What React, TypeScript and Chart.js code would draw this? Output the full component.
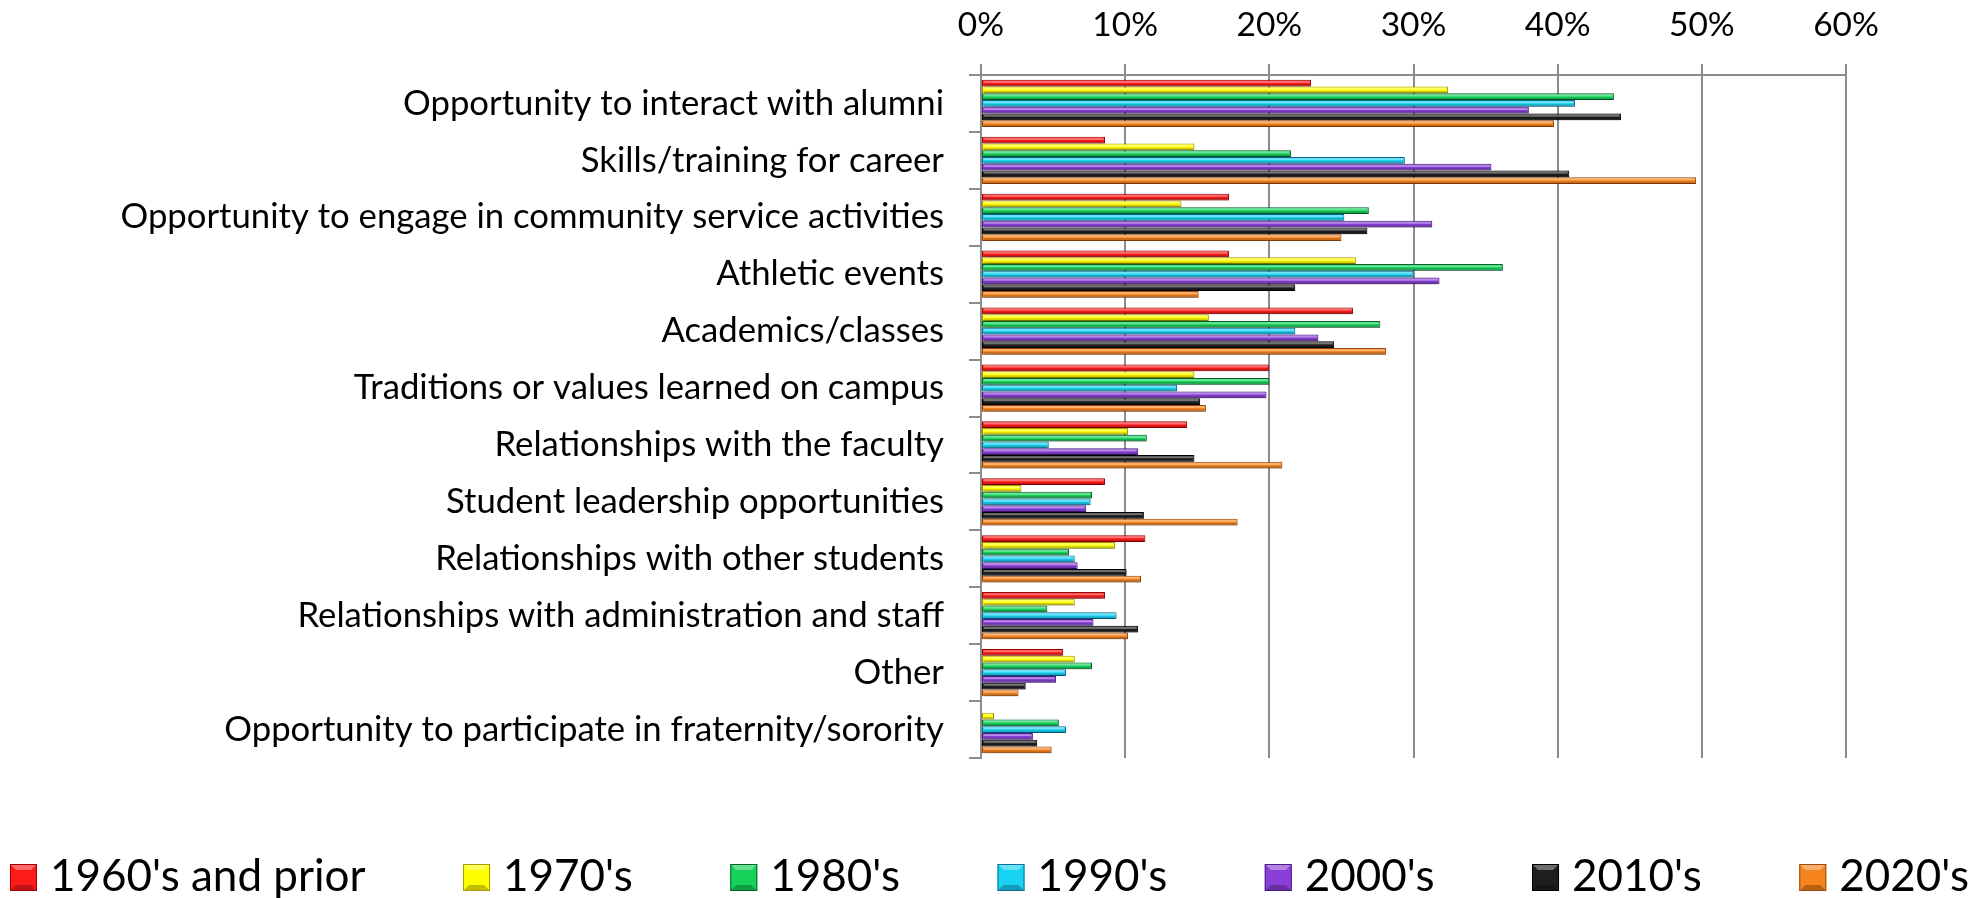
import React, { useEffect, useRef } from 'react';
import { Chart, registerables } from 'chart.js';

Chart.register(...registerables);

const categories = [
  'Opportunity to interact with alumni',
  'Skills/training for career',
  'Opportunity to engage in community service activities',
  'Athletic events',
  'Academics/classes',
  'Traditions or values learned on campus',
  'Relationships with the faculty',
  'Student leadership opportunities',
  'Relationships with other students',
  'Relationships with administration and staff',
  'Other',
  'Opportunity to participate in fraternity/sorority',
];

const seriesNames = ["1960's and prior", "1970's", "1980's", "1990's", "2000's", "2010's", "2020's"];

const s1960 = [22.9, 8.6, 17.2, 17.2, 25.8, 20.0, 14.3, 8.6, 11.4, 8.6, 5.7, 0];
const s1970 = [32.4, 14.8, 13.9, 26.0, 15.8, 14.8, 10.2, 2.8, 9.3, 6.5, 6.5, 0.9];
const s1980 = [43.9, 21.5, 26.9, 36.2, 27.7, 20.0, 11.5, 7.7, 6.1, 4.6, 7.7, 5.4];
const s1990 = [41.2, 29.4, 25.2, 30.0, 21.8, 13.6, 4.7, 7.6, 6.5, 9.4, 5.9, 5.9];
const s2000 = [38.0, 35.4, 31.3, 31.8, 23.4, 19.8, 10.9, 7.3, 6.7, 7.8, 5.2, 3.6];
const s2010 = [44.4, 40.8, 26.8, 21.8, 24.5, 15.2, 14.8, 11.3, 10.1, 10.9, 3.1, 3.9];
const s2020 = [39.75, 49.6, 25.0, 15.1, 28.1, 15.6, 20.9, 17.8, 11.1, 10.2, 2.6, 4.9];

const seriesValues = [s1960, s1970, s1980, s1990, s2000, s2010, s2020];

const fillColors = ['#ff1a1a', '#ffff00', '#14d25a', '#18d2f2', '#8a3fd6', '#1e1e1e', '#f5841e'];
const edgeColors = ['#a00000', '#a89a00', '#06642a', '#0a6e9a', '#4a1a88', '#000000', '#a0480a'];

const xTicks = [0, 10, 20, 30, 40, 50, 60];

const FONT = 'Lato, "Open Sans", sans-serif';
const GRID = '#8c8c8c';

const barDecor = {
  id: 'barDecor',
  beforeDatasetsDraw(chart: any) {
    const ctx = chart.ctx;
    ctx.save();
    ctx.shadowColor = 'rgba(0,0,0,0.28)';
    ctx.shadowBlur = 5;
    ctx.shadowOffsetX = 2;
    ctx.shadowOffsetY = 3;
  },
  afterDatasetsDraw(chart: any) {
    const ctx = chart.ctx;
    ctx.restore();
    ctx.save();
    chart.data.datasets.forEach((ds: any, i: number) => {
      const meta = chart.getDatasetMeta(i);
      if (meta.hidden) return;
      meta.data.forEach((el: any) => {
        const p = el.getProps(['x', 'y', 'base', 'height'], true);
        const left = Math.min(p.base, p.x);
        const right = Math.max(p.base, p.x);
        const w = right - left;
        if (w < 3) return;
        const top = p.y - p.height / 2;
        ctx.fillStyle = 'rgba(255,255,255,0.38)';
        ctx.fillRect(left + 1.5, top + 1.2, w - 3, Math.max(1, p.height * 0.28));
        ctx.fillStyle = 'rgba(0,0,0,0.18)';
        ctx.fillRect(left + 1.5, top + p.height * 0.62, w - 3, p.height * 0.3);
      });
    });
    ctx.restore();
  },
};

function drawLegendBox(ctx: CanvasRenderingContext2D, x: number, y: number, s: number, fill: string, edge: string) {
  ctx.fillStyle = fill;
  ctx.fillRect(x, y, s, s);
  // bevel: lighter top, darker bottom
  ctx.beginPath();
  ctx.moveTo(x, y);
  ctx.lineTo(x + s, y);
  ctx.lineTo(x + s * 0.78, y + s * 0.22);
  ctx.lineTo(x + s * 0.22, y + s * 0.22);
  ctx.closePath();
  ctx.fillStyle = 'rgba(255,255,255,0.35)';
  ctx.fill();
  ctx.beginPath();
  ctx.moveTo(x, y + s);
  ctx.lineTo(x + s, y + s);
  ctx.lineTo(x + s * 0.78, y + s * 0.78);
  ctx.lineTo(x + s * 0.22, y + s * 0.78);
  ctx.closePath();
  ctx.fillStyle = 'rgba(0,0,0,0.25)';
  ctx.fill();
  ctx.strokeStyle = edge;
  ctx.lineWidth = 1;
  ctx.strokeRect(x + 0.5, y + 0.5, s - 1, s - 1);
}

const customLegend = {
  id: 'customLegend',
  afterDraw(chart: any) {
    const ctx: CanvasRenderingContext2D = chart.ctx;
    ctx.save();
    ctx.font = `44px ${FONT}`;
    const boxS = 27;
    const textGap = 13;
    const widths = seriesNames.map((n) => boxS + textGap + ctx.measureText(n).width);
    const startX = 10;
    const endX = 1969;
    const total = widths.reduce((a, b) => a + b, 0);
    const gap = (endX - startX - total) / (widths.length - 1);
    const cy = 877;
    let x = startX;
    seriesNames.forEach((n, i) => {
      drawLegendBox(ctx, x, cy - 13, boxS, fillColors[i], edgeColors[i]);
      ctx.fillStyle = '#000';
      ctx.textBaseline = 'middle';
      ctx.textAlign = 'left';
      ctx.fillText(n, x + boxS + textGap, cy);
      x += widths[i] + gap;
    });
    ctx.restore();
  },
};

export default function App() {
  const ref = useRef<HTMLCanvasElement | null>(null);

  useEffect(() => {
    if (!ref.current) return;
    const chart = new Chart(ref.current, {
      type: 'bar',
      data: {
        labels: categories,
        datasets: seriesNames.map((name, i) => ({
          label: name,
          data: seriesValues[i],
          backgroundColor: fillColors[i],
          borderColor: edgeColors[i],
          borderWidth: 1,
          borderSkipped: false,
          categoryPercentage: 0.83,
          barPercentage: 1.0,
        })),
      },
      options: {
        indexAxis: 'y',
        responsive: false,
        animation: false,
        devicePixelRatio: 1,
        layout: { padding: { top: 0, right: 139, bottom: 140, left: 0 } },
        scales: {
          x: {
            position: 'top',
            min: 0,
            max: 60,
            afterBuildTicks: (scale: any) => {
              scale.ticks = xTicks.map((v) => ({ value: v }));
            },
            afterFit: (scale: any) => {
              scale.height = 75;
            },
            ticks: {
              callback: (v: any) => v + '%',
              color: '#000',
              font: { family: FONT, size: 33.5 },
              padding: 19,
              maxRotation: 0,
            },
            grid: {
              color: GRID,
              lineWidth: 2,
              tickLength: 11,
              drawTicks: true,
            },
            border: { display: true, color: GRID, width: 2 },
          },
          y: {
            afterFit: (scale: any) => {
              scale.width = 981;
            },
            ticks: {
              color: '#000',
              font: { family: FONT, size: 34.7 },
              padding: 25,
              autoSkip: false,
            },
            grid: {
              offset: true,
              drawOnChartArea: false,
              color: GRID,
              lineWidth: 2,
              tickLength: 12,
            },
            border: { display: true, color: GRID, width: 2 },
          },
        },
        plugins: {
          legend: { display: false },
          tooltip: { enabled: false },
        },
      },
      plugins: [barDecor, customLegend],
    } as any);
    return () => chart.destroy();
  }, []);

  return (
    <div style={{ position: 'fixed', left: 0, top: 0, width: 1985, height: 898, background: '#fff' }}>
      <canvas ref={ref} width={1985} height={898} />
    </div>
  );
}
